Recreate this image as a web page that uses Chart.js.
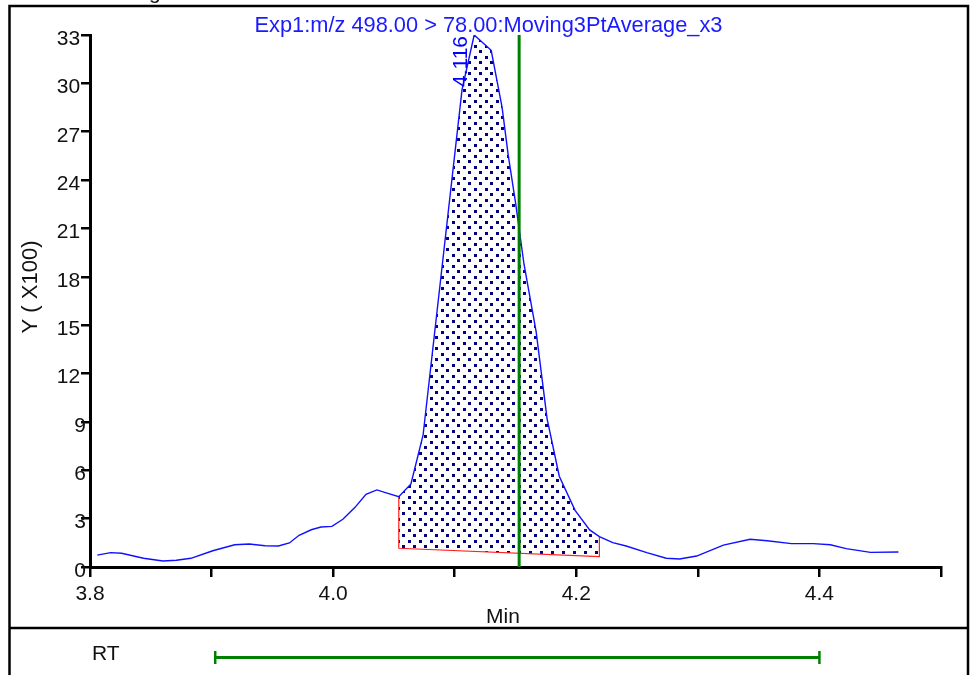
<!DOCTYPE html>
<html>
<head>
<meta charset="utf-8">
<script src="https://cdn.jsdelivr.net/npm/chart.js@4.4.1/dist/chart.umd.min.js"></script>
<style>
  html, body { margin: 0; padding: 0; background: #fff; }
  #wrap { width: 971px; height: 675px; position: relative; }
</style>
</head>
<body>
<div id="wrap"><canvas id="chart"></canvas></div>
<script>
// trace: time (min), intensity (x100)
const traceTime = [
  3.806, 3.817, 3.826, 3.844, 3.860, 3.871, 3.883, 3.901, 3.919, 3.931,
  3.944, 3.955, 3.964, 3.972, 3.982, 3.990, 3.999, 4.008, 4.018, 4.027,
  4.036, 4.045, 4.054, 4.064, 4.074, 4.106, 4.116, 4.130, 4.139, 4.144,
  4.150, 4.157, 4.167, 4.176, 4.186, 4.199, 4.211, 4.219, 4.230, 4.241,
  4.258, 4.274, 4.285, 4.299, 4.321, 4.343, 4.357, 4.377, 4.395, 4.409,
  4.422, 4.442, 4.465,
];
const traceIntensity = [
  0.74, 0.89, 0.85, 0.54, 0.37, 0.42, 0.54, 1.01, 1.38, 1.43,
  1.32, 1.30, 1.49, 1.97, 2.31, 2.48, 2.52, 2.96, 3.70, 4.51,
  4.78, 4.57, 4.36, 5.15, 8.19, 29.59, 33.0, 32.05, 28.49, 25.55,
  22.62, 18.78, 14.59, 9.19, 5.63, 3.51, 2.30, 1.88, 1.51, 1.30,
  0.89, 0.54, 0.50, 0.68, 1.36, 1.72, 1.63, 1.45, 1.45, 1.38,
  1.14, 0.91, 0.93,
];

const peakBounds = [4.054, 4.219];   // integration start / end
const peakBaseline = [1.16, 0.64];   // baseline height at start / end
const peakApex = 4.116;
const markerTime = 4.153;           // green expected-RT line
const rtWindow = [3.903, 4.4];      // RT bar in lower panel

const xTicks = { min: 3.8, max: 4.5, step: 0.1 };
const yTicks = { min: 0, max: 33, step: 3 };

const titleText = "Exp1:m/z 498.00 > 78.00:Moving3PtAverage_x3";
const font = '"Liberation Sans", Arial, sans-serif';

const trace = traceTime.map((t, i) => ({ x: t, y: traceIntensity[i] }));
const peakPoints = trace.filter((p) => p.x >= peakBounds[0] && p.x <= peakBounds[1]);
const peakArea = [
  ...peakPoints,
  { x: peakBounds[1], y: peakBaseline[1] },
  { x: peakBounds[0], y: peakBaseline[0] },
];
const peakEdges = [
  peakPoints[0],
  { x: peakBounds[0], y: peakBaseline[0] },
  { x: peakBounds[1], y: peakBaseline[1] },
  peakPoints[peakPoints.length - 1],
];

function dotPattern() {
  const tile = document.createElement("canvas");
  tile.width = 11;
  tile.height = 11;
  const c = tile.getContext("2d");
  c.fillStyle = "#fff";
  c.fillRect(0, 0, 11, 11);
  c.fillStyle = "#000080";
  c.fillRect(1, 1, 3, 3);
  c.fillRect(6, 6, 3, 3);
  return c.createPattern(tile, "repeat");
}

const decor = {
  id: "decor",
  beforeDraw(chart) {
    const ctx = chart.ctx;
    ctx.save();
    ctx.fillStyle = "#fff";
    ctx.fillRect(0, 0, chart.width, chart.height);
    ctx.strokeStyle = "#000";
    ctx.lineWidth = 2.5;
    ctx.beginPath();
    ctx.moveTo(9.5, 675);
    ctx.lineTo(9.5, 6);
    ctx.lineTo(968, 6);
    ctx.lineTo(968, 675);
    ctx.moveTo(9.5, 628);
    ctx.lineTo(968, 628);
    ctx.stroke();
    ctx.fillStyle = "#111";
    ctx.font = "21px " + font;
    ctx.textBaseline = "alphabetic";
    ctx.fillText("g", 149, -1);
    // title
    ctx.fillStyle = "#1a1aff";
    ctx.font = "21.8px " + font;
    ctx.textAlign = "center";
    ctx.fillText(titleText, 488.5, 32);
    ctx.restore();
  },
  afterDatasetsDraw(chart) {
    const ctx = chart.ctx;
    const x = chart.scales.x;
    const y = chart.scales.y;
    ctx.save();
    // apex label
    ctx.fillStyle = "#0000ff";
    ctx.font = "21px " + font;
    ctx.translate(x.getPixelForValue(peakApex) - 7, y.getPixelForValue(33) + 1);
    ctx.rotate(-Math.PI / 2);
    ctx.textAlign = "right";
    ctx.textBaseline = "alphabetic";
    ctx.fillText(peakApex.toFixed(3), 0, 0);
    ctx.restore();

    ctx.save();
    ctx.fillStyle = "#111";
    ctx.font = "21px " + font;
    ctx.textAlign = "center";
    ctx.textBaseline = "middle";
    ctx.fillText("Min", 503, 617);
    ctx.textAlign = "left";
    ctx.fillText("RT", 92, 654);
    ctx.font = "22px " + font;
    ctx.translate(31, 287);
    ctx.rotate(-Math.PI / 2);
    ctx.textAlign = "center";
    ctx.fillText("Y ( X100)", 0, 0);
    ctx.restore();

    // RT window bar
    const x0 = x.getPixelForValue(rtWindow[0]);
    const x1 = x.getPixelForValue(rtWindow[1]);
    ctx.save();
    ctx.strokeStyle = "#008000";
    ctx.lineWidth = 3;
    ctx.beginPath();
    ctx.moveTo(x0, 657.5);
    ctx.lineTo(x1, 657.5);
    ctx.stroke();
    ctx.lineWidth = 2.5;
    ctx.beginPath();
    ctx.moveTo(x0, 651);
    ctx.lineTo(x0, 664);
    ctx.moveTo(x1, 651);
    ctx.lineTo(x1, 664);
    ctx.stroke();
    ctx.restore();
  },
};

Chart.defaults.font.family = font;
Chart.defaults.font.size = 21;
Chart.defaults.color = "#111";

new Chart(document.getElementById("chart"), {
  type: "line",
  data: {
    datasets: [
      {
        label: "marker",
        data: [{ x: markerTime, y: yTicks.min }, { x: markerTime, y: yTicks.max }],
        borderColor: "#008000",
        borderWidth: 3,
        pointRadius: 0,
        fill: false,
      },
      {
        label: "trace",
        data: trace,
        borderColor: "#1010ff",
        borderWidth: 1.4,
        pointRadius: 0,
        tension: 0,
        fill: false,
      },
      {
        label: "baseline",
        data: peakEdges,
        borderColor: "#ff2020",
        borderWidth: 1.2,
        pointRadius: 0,
        fill: false,
      },
      {
        label: "area",
        data: peakArea,
        borderColor: "rgba(0,0,0,0)",
        backgroundColor: dotPattern(),
        pointRadius: 0,
        fill: "shape",
      },
    ],
  },
  options: {
    responsive: true,
    maintainAspectRatio: false,
    animation: false,
    events: [],
    layout: { padding: { left: 0, right: 30, top: 35, bottom: 0 } },
    plugins: {
      legend: { display: false },
      tooltip: { enabled: false },
      title: { display: false },
    },
    scales: {
      x: {
        type: "linear",
        min: xTicks.min,
        max: xTicks.max,
        afterFit(scale) { scale.height = 108; },
        border: { display: true, color: "#000", width: 3 },
        grid: {
          drawOnChartArea: false,
          drawTicks: true,
          tickLength: 10,
          tickColor: "#000",
          lineWidth: 2.5,
        },
        ticks: {
          stepSize: xTicks.step,
          autoSkip: false,
          maxRotation: 0,
          padding: 5,
          color: "#111",
          callback: (v) => (Math.round(v * 10) % 2 === 0 && v < 4.45 ? v.toFixed(1) : ""),
        },
      },
      y: {
        min: yTicks.min,
        max: yTicks.max,
        afterFit(scale) { scale.width = 90; },
        border: { display: true, color: "#000", width: 3 },
        grid: {
          drawOnChartArea: false,
          drawTicks: true,
          tickLength: 9,
          tickColor: "#000",
          lineWidth: 2.5,
        },
        ticks: {
          stepSize: yTicks.step,
          autoSkip: false,
          padding: -5,
          labelOffset: 4,
          color: "#111",
          callback: (v) => (v >= 10 ? v + " " : String(v)),
        },
      },
    },
  },
  plugins: [decor],
});
</script>
</body>
</html>
